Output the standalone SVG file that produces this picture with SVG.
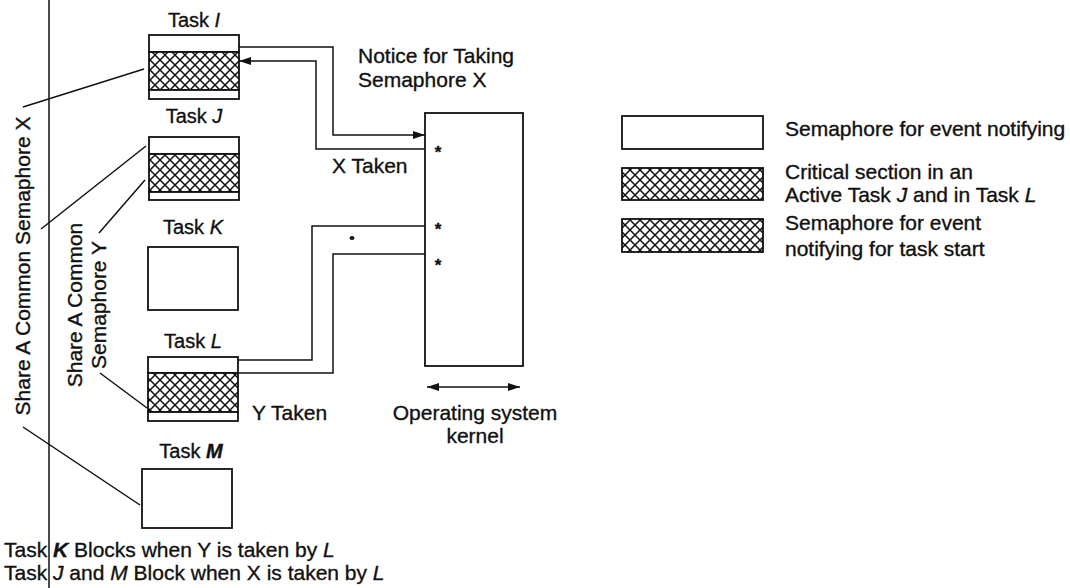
<svg xmlns="http://www.w3.org/2000/svg" width="1070" height="588" viewBox="0 0 1070 588">
<style>
text{font-family:"Liberation Sans",Arial,sans-serif;font-size:21px;fill:#111;stroke:#111;stroke-width:0.35}
.lbl{font-size:20px}
.box{fill:#fff;stroke:#111;stroke-width:1.8}
.hatch{fill:url(#xh);stroke:#111;stroke-width:1.8}
.ln{fill:none;stroke:#111;stroke-width:1.5}
.star{font-size:17px;font-weight:bold}
</style>
<defs>
<pattern id="xh" patternUnits="userSpaceOnUse" width="10" height="10">
<rect width="10" height="10" fill="#fff"/>
<path d="M0,0L10,10M10,0L0,10" stroke="#111" stroke-width="1.5"/>
</pattern>
<marker id="ah" viewBox="0 0 12 8" refX="12" refY="4" markerWidth="12" markerHeight="8" markerUnits="userSpaceOnUse" orient="auto-start-reverse">
<path d="M0,0L12,4L0,8z" fill="#111"/>
</marker>
</defs>
<rect width="1070" height="588" fill="#fff"/>

<line class="ln" x1="49" y1="0" x2="49" y2="588" stroke-width="2"/>

<g id="taskI">
<text class="lbl" x="194" y="27" text-anchor="middle">Task <tspan font-style="italic">I</tspan></text>
<rect class="box" x="149" y="35" width="90" height="17"/>
<rect class="hatch" x="149" y="52" width="90" height="38"/>
<rect class="box" x="149" y="90" width="90" height="9"/>
</g>
<g id="taskJ">
<text class="lbl" x="194" y="123" text-anchor="middle">Task <tspan font-style="italic">J</tspan></text>
<rect class="box" x="149" y="137" width="90" height="17"/>
<rect class="hatch" x="149" y="154" width="90" height="38"/>
<rect class="box" x="149" y="192" width="90" height="8"/>
</g>
<g id="taskK">
<text class="lbl" x="193" y="234" text-anchor="middle">Task <tspan font-style="italic">K</tspan></text>
<rect class="box" x="148" y="247" width="90" height="63"/>
</g>
<g id="taskL">
<text class="lbl" x="193" y="348" text-anchor="middle">Task <tspan font-style="italic">L</tspan></text>
<rect class="box" x="148" y="357" width="90" height="16"/>
<rect class="hatch" x="148" y="373" width="90" height="39"/>
<rect class="box" x="148" y="412" width="90" height="9"/>
</g>
<g id="taskM">
<text class="lbl" x="191" y="458" text-anchor="middle">Task <tspan font-style="italic" font-weight="bold">M</tspan></text>
<rect class="box" x="142" y="469" width="90" height="59"/>
</g>

<g id="kernel">
<rect class="box" x="425" y="113" width="98" height="253"/>
<text class="star" x="438" y="158" text-anchor="middle">*</text>
<text class="star" x="438" y="235" text-anchor="middle">*</text>
<text class="star" x="438" y="271" text-anchor="middle">*</text>
<text x="475" y="420" text-anchor="middle">Operating system</text>
<text x="475" y="443" text-anchor="middle">kernel</text>
</g>

<g id="legend">
<rect class="box" x="622" y="116" width="141" height="33"/>
<rect class="hatch" x="622" y="168" width="141" height="32"/>
<rect class="hatch" x="622" y="219" width="141" height="33"/>
<text x="785" y="136">Semaphore for event notifying</text>
<text x="785" y="179">Critical section in an</text>
<text x="785" y="202">Active Task <tspan font-style="italic">J</tspan> and in Task <tspan font-style="italic">L</tspan></text>
<text x="785" y="230">Semaphore for event</text>
<text x="785" y="256">notifying for task start</text>
</g>

<g id="connectors">
<path class="ln" d="M239,47H333V135H425" marker-end="url(#ah)"/>
<path class="ln" d="M425,149H316V61H239" marker-end="url(#ah)"/>
<path class="ln" d="M238,360H312V226H425"/>
<path class="ln" d="M238,373H333V254H425"/>
<line class="ln" x1="427" y1="387" x2="520" y2="387" marker-start="url(#ah)" marker-end="url(#ah)"/>
<line class="ln" x1="144" y1="69" x2="23" y2="107"/>
<line class="ln" x1="146" y1="146" x2="41" y2="229"/>
<line class="ln" x1="145" y1="180" x2="99" y2="233"/>
<line class="ln" x1="100" y1="373" x2="147" y2="408"/>
<line class="ln" x1="23" y1="427" x2="140" y2="505"/>
<ellipse cx="352" cy="238" rx="2.5" ry="2" fill="#111"/>
</g>

<g id="labels">
<text x="358" y="63">Notice for Taking</text>
<text x="358" y="87">Semaphore X</text>
<text x="332" y="173">X Taken</text>
<text x="252" y="420">Y Taken</text>
<text transform="translate(30,266) rotate(-90)" text-anchor="middle">Share A Common Semaphore X</text>
<text transform="translate(82,305) rotate(-90)" text-anchor="middle">Share A Common</text>
<text transform="translate(106,305) rotate(-90)" text-anchor="middle">Semaphore Y</text>
<text x="4" y="557">Task <tspan font-style="italic" font-weight="bold">K</tspan> Blocks when  Y is taken by <tspan font-style="italic">L</tspan></text>
<text x="4" y="580">Task <tspan font-style="italic">J</tspan> and <tspan font-style="italic">M</tspan> Block when X is taken by <tspan font-style="italic">L</tspan></text>
</g>
</svg>
